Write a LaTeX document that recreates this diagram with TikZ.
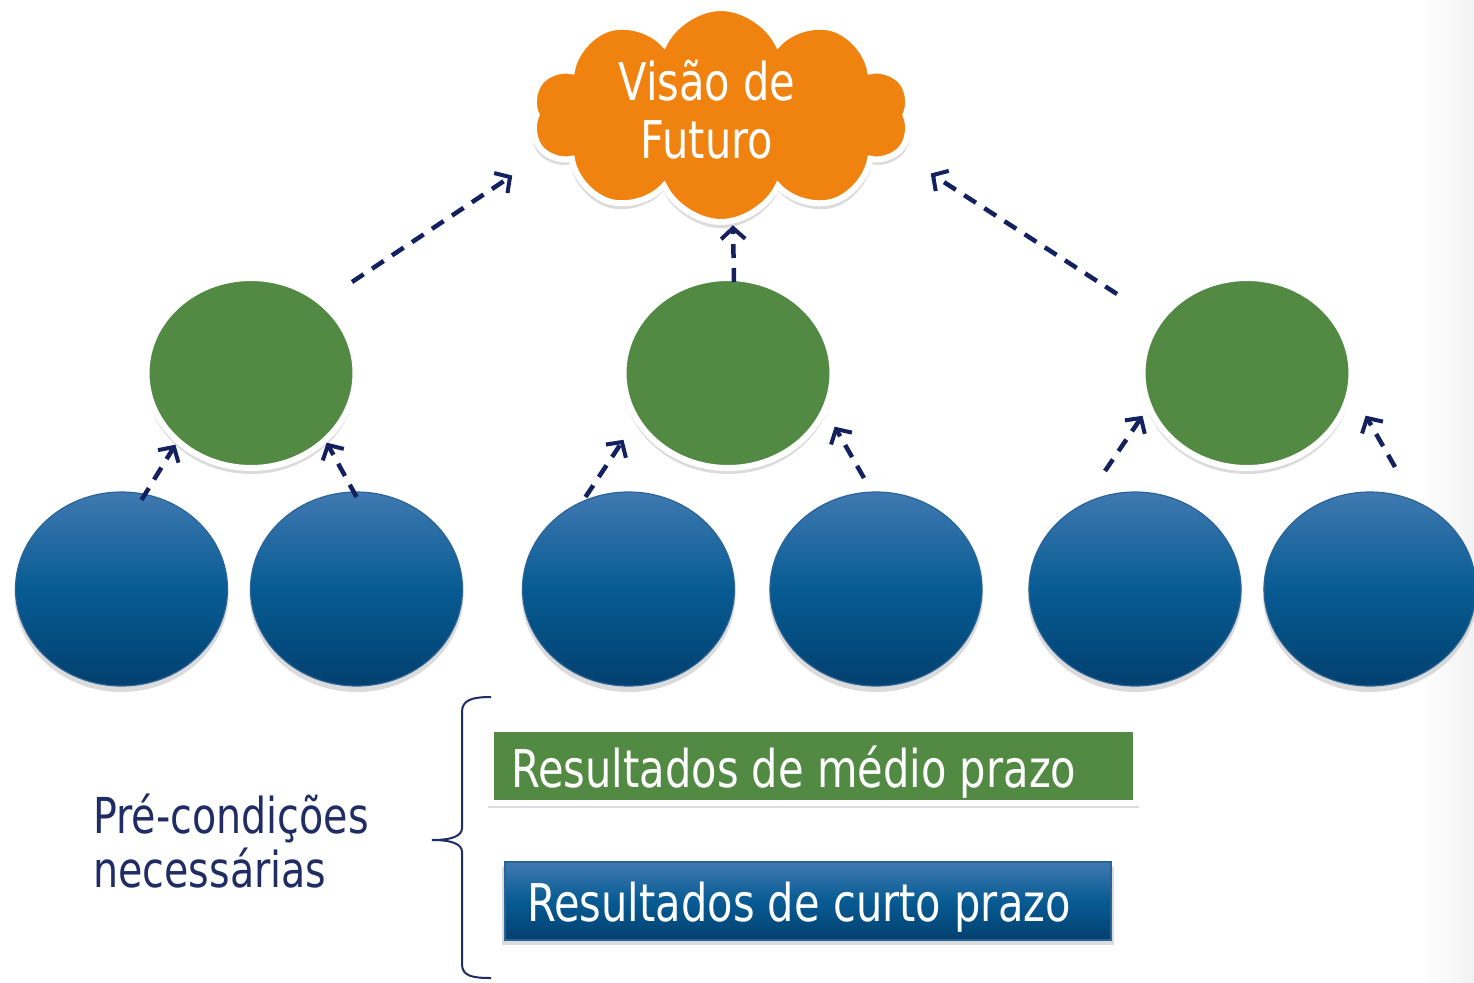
\documentclass[tikz,border=0pt]{standalone}
\usepackage{fontspec}
\setmainfont{DejaVu Sans}[FakeStretch=0.8]
\usetikzlibrary{shapes.geometric,shapes.symbols,arrows.meta,shadows,calc,decorations.markings}
\definecolor{navy}{HTML}{13215E}
\definecolor{grn}{HTML}{528A43}
\definecolor{org}{HTML}{F0820F}
\definecolor{btop}{HTML}{4079B1}
\definecolor{bmid}{HTML}{075B93}
\definecolor{bbot}{HTML}{02406F}
\definecolor{bline}{HTML}{2A6497}
\definecolor{lbl}{HTML}{1F2D64}
\begin{document}
\begin{tikzpicture}[x=1pt,y=-1pt,
  shd/.style={drop shadow={shadow xshift=0pt,shadow yshift=-5pt,shadow scale=1.01,opacity=0.28}},
  greenell/.style={ellipse,fill=grn,draw=white,line width=6pt,minimum width=209pt,minimum height=190pt,inner sep=0pt,shd},
  blueell/.style={ellipse,draw=bline,line width=1.2pt,top color=btop,bottom color=bbot,middle color=bmid,minimum width=212pt,minimum height=194pt,inner sep=0pt,shd},
  arr/.style={draw=navy,line width=4.5pt,dash pattern=on 14pt off 10pt,
    postaction={decorate,decoration={markings,mark=at position 1 with {
      \draw[solid,navy,line width=4pt,line join=miter,line cap=butt] (-11pt,12pt) -- (0pt,0pt) -- (-11pt,-12pt);}}}},
  gbox/.style={rectangle,fill=grn,draw=white,line width=6pt,minimum width=645pt,minimum height=74pt,inner sep=0pt,shd},
  bbox/.style={rectangle,top color=btop,bottom color=bbot,middle color=bmid,draw=bline,line width=1.5pt,minimum width=606pt,minimum height=78pt,inner sep=0pt,shd},
  boxtext/.style={text=white,font=\fontsize{52}{58}\selectfont,inner sep=0pt},
]
\useasboundingbox (0,0) rectangle (1474,982);
\fill[white] (0,0) rectangle (1474,982);
\shade[left color=white,right color=black!5] (1420,0) rectangle (1474,982);

% cloud
\node[cloud,cloud puffs=10,cloud puff arc=130,aspect=1.75,fill=org,draw=white,line width=6pt,minimum width=380pt,minimum height=214pt,shd] (cloud) at (721,115) {};
\node[text=white,font=\fontsize{52}{58}\selectfont,align=center,inner sep=0pt] (vtext) at (707,110) {Visão de\\Futuro};

% green
\node[greenell] (g1) at (251,373) {};
\node[greenell] (g2) at (728,373) {};
\node[greenell] (g3) at (1247,373) {};

% blue
\node[blueell] (b1) at (121.5,589) {};
\node[blueell] (b2) at (356.5,589) {};
\node[blueell] (b3) at (628.5,589) {};
\node[blueell] (b4) at (876,589) {};
\node[blueell] (b5) at (1135,589) {};
\node[blueell] (b6) at (1370,589) {};

% arrows
\draw[arr] ($(g1)+(101,-91)$) -- ($(cloud)+(-211,62)$);
\draw[arr] ($(g2)+(6,-91)$) -- ($(cloud)+(12,113)$);
\draw[arr] ($(g3)+(-130,-79)$) -- ($(cloud)+(212,60)$);
\draw[arr] ($(b1)+(20,-89)$) -- ($(g1)+(-77,74)$);
\draw[arr] ($(b2)+(0,-92)$) -- ($(g1)+(77,72)$);
\draw[arr] ($(b3)+(-43,-92)$) -- ($(g2)+(-106,69)$);
\draw[arr] ($(b4)+(-12,-111)$) -- ($(g2)+(108,56)$);
\draw[arr] ($(b5)+(-30,-118)$) -- ($(g3)+(-106,45)$);
\draw[arr] ($(b6)+(25,-122)$) -- ($(g3)+(120,45)$);

% legend
\node[gbox] (mbox) at (813.5,766) {};
\node[boxtext,anchor=base west] (mtext) at (511,787) {Resultados de médio prazo};
\node[bbox] (cbox) at (808,901) {};
\node[boxtext,anchor=base west] (ctext) at (527,921) {Resultados de curto prazo};

\draw[lbl,line width=2pt] (491,697) .. controls (472,697) and (462,700) .. (462,712) -- (462,828)
  .. controls (462,836) and (452,840) .. (432,840) .. controls (452,840) and (462,844) .. (462,852)
  -- (462,964) .. controls (462,976) and (472,978) .. (491,978);

\node[font=\fontsize{49.5}{54}\selectfont,text=lbl,align=left,anchor=north west,inner sep=0pt] (pre) at (93,794) {Pré-condições\\necessárias};
\end{tikzpicture}
\end{document}
